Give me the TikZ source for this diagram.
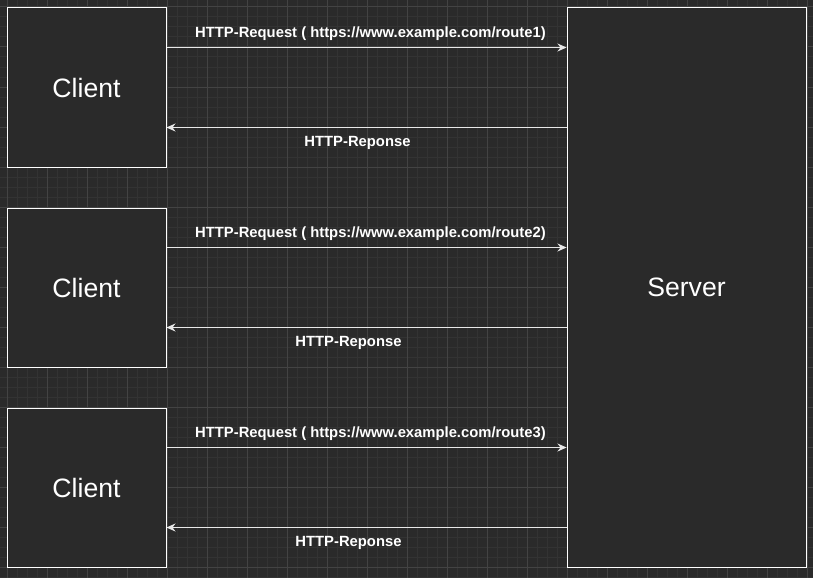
\documentclass[tikz,border=0pt]{standalone}
\usepackage{fontspec}
\setmainfont{Liberation Sans}
\usetikzlibrary{arrows.meta}
\definecolor{canvas}{HTML}{2A2A2A}
\definecolor{minorline}{HTML}{333333}
\definecolor{majorline}{HTML}{434343}
\definecolor{wire}{HTML}{E8E8E8}
\tikzset{
    box/.style={draw=white, fill=canvas, line width=1pt, inner sep=0pt},
    msg/.style={draw=wire, line width=1pt, -{Stealth[length=9pt,width=8pt,inset=3pt]}},
    msglabel/.style={text=white, font=\fontsize{14.8}{17}\selectfont\bfseries, inner sep=0pt},
}

\begin{document}
\begin{tikzpicture}[x=1pt, y=-1pt]
    % canvas and grid
    \fill[canvas] (0,0) rectangle (813,578);
    \useasboundingbox (0,0) rectangle (813,578);
    \foreach \p in {7,17,...,807} {
        \draw[minorline, line width=1pt] (\p,0) -- (\p,578);
    }
    \foreach \p in {7,17,...,577} {
        \draw[minorline, line width=1pt] (0,\p) -- (813,\p);
    }
    \foreach \p in {7,47,...,807} {
        \draw[majorline, line width=1pt] (\p,0) -- (\p,578);
    }
    \foreach \p in {7,47,...,567} {
        \draw[majorline, line width=1pt] (0,\p) -- (813,\p);
    }

    % server
    \node[box, minimum width=239pt, minimum height=559pt, text=white,
          font=\fontsize{26.6}{30}\selectfont] (server) at (686.5,287.5) {Server};

    % clients and messages
    \foreach \i/\y/\dx in {1/87.5/9, 2/287.5/0, 3/487.5/0} {
        \node[box, minimum width=159pt, minimum height=159pt, text=white,
              font=\fontsize{26.6}{30}\selectfont] (client\i) at (86.5,\y) {Client};
        \draw[msg] ([yshift=40pt]client\i.east) -- ([yshift=40pt]client\i.east -| server.west)
            node[msglabel, midway, above=6pt, xshift=4pt] {HTTP-Request ( https://www.example.com/route\i)};
        \draw[msg] ([yshift=-40pt]client\i.east -| server.west) -- ([yshift=-40pt]client\i.east)
            node[msglabel, midway, below=8pt, xshift=-18pt+\dx pt] {HTTP-Reponse};
    }
\end{tikzpicture}
\end{document}
